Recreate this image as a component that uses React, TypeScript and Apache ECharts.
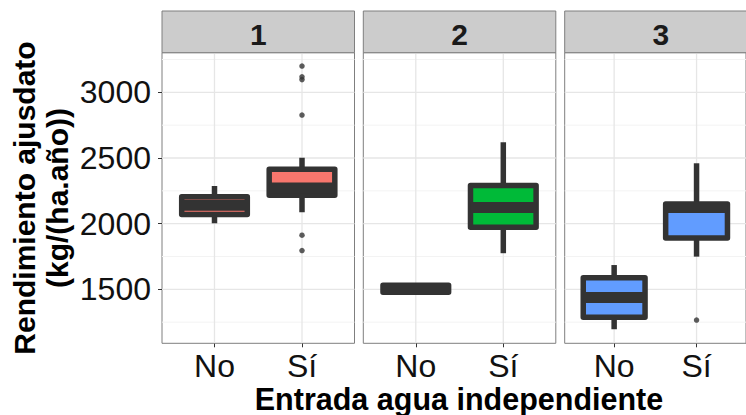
import React, { useEffect, useRef } from "react";
import * as echarts from "echarts";

const panels = ["1", "2", "3"];
const categories = ["No", "Sí"];
const fills = ["#F8766D", "#00BA38", "#619CFF"];
// [low whisker, Q1, median, Q3, high whisker] for each panel
const boxNo = [
  [2003, 2070, 2140, 2205, 2287],
  [1478, 1478, 1505, 1532, 1532],
  [1196, 1288, 1438, 1588, 1685],
];
const boxSi = [
  [2087, 2217, 2272, 2415, 2502],
  [1775, 1973, 2123, 2291, 2620],
  [1749, 1890, 2123, 2150, 2460],
];
const outliersSi = [[3200, 3118, 3097, 2827, 1912, 1795], [], [1266]];
const yTicks = [1500, 2000, 2500, 3000];
const yGridValues = [1250, 1500, 1750, 2000, 2250, 2500, 2750, 3000, 3250];
const xPositions = [1, 2];
const yMin = 1089;
const yMax = 3302;

const DARK = "#333333";
const FONT = "'Liberation Sans', Arial, sans-serif";

const lefts = [162, 363.3, 564.7];
const TOP = 52.7;
const W = 192.5;
const H = 290.6;

export default function App() {
  const ref = useRef<HTMLDivElement>(null);
  useEffect(() => {
    if (!ref.current) return;
    const chart = echarts.init(ref.current, undefined, { renderer: "svg" });

    const grids: any[] = [];
    const xAxes: any[] = [];
    const yAxes: any[] = [];
    const series: any[] = [];
    const graphics: any[] = [];

    panels.forEach((p, i) => {
      grids.push({
        left: lefts[i],
        top: TOP,
        width: W,
        height: H,
        show: true,
        backgroundColor: "#ffffff",
        borderColor: "#7f7f7f",
        borderWidth: 1,
      });
      xAxes.push({
        type: "value",
        gridIndex: i,
        min: 0.4,
        max: 2.6,
        axisLine: { show: false },
        splitLine: { show: false },
        axisTick: {
          show: true,
          customValues: xPositions,
          length: 4,
          lineStyle: { color: DARK, width: 1 },
        },
        axisLabel: {
          show: true,
          customValues: xPositions,
          formatter: (v: number) => categories[Math.round(v) - 1] ?? "",
          fontSize: 32,
          fontFamily: FONT,
          color: "#111111",
          margin: 7,
        },
      });
      yAxes.push({
        type: "value",
        gridIndex: i,
        min: yMin,
        max: yMax,
        axisLine: { show: false },
        splitLine: { show: false },
        axisTick:
          i === 0
            ? { show: true, customValues: yTicks, length: 4, lineStyle: { color: DARK, width: 1 } }
            : { show: false },
        axisLabel:
          i === 0
            ? {
                show: true,
                customValues: yTicks,
                formatter: (v: number) => String(v),
                fontSize: 32,
                fontFamily: FONT,
                color: "#111111",
                margin: 11,
              }
            : { show: false },
      });

      // horizontal grid lines
      series.push({
        type: "custom",
        xAxisIndex: i,
        yAxisIndex: i,
        silent: true,
        z: 1,
        data: yGridValues.map((v) => [1, v]),
        encode: { x: 0, y: 1 },
        renderItem: (params: any, api: any) => {
          const v = api.value(1);
          const cs = params.coordSys;
          const y = api.coord([1, v])[1];
          const major = v % 500 === 0;
          return {
            type: "line",
            shape: { x1: cs.x, y1: y, x2: cs.x + cs.width, y2: y },
            style: { stroke: major ? "#e6e6e6" : "#f3f3f3", lineWidth: major ? 1.3 : 1 },
          };
        },
      });
      // vertical grid lines
      series.push({
        type: "custom",
        xAxisIndex: i,
        yAxisIndex: i,
        silent: true,
        z: 1,
        data: xPositions.map((v) => [v, 2000]),
        encode: { x: 0, y: 1 },
        renderItem: (params: any, api: any) => {
          const cs = params.coordSys;
          const x = api.coord([api.value(0), 2000])[0];
          return {
            type: "line",
            shape: { x1: x, y1: cs.y, x2: x, y2: cs.y + cs.height },
            style: { stroke: "#e6e6e6", lineWidth: 1.3 },
          };
        },
      });
      // boxes
      const fill = fills[i];
      series.push({
        type: "custom",
        xAxisIndex: i,
        yAxisIndex: i,
        z: 3,
        data: [
          [1, ...boxNo[i]],
          [2, ...boxSi[i]],
        ],
        encode: { x: 0, y: [1, 2, 3, 4, 5] },
        renderItem: (params: any, api: any) => {
          const x = api.value(0);
          const low = api.value(1);
          const q1 = api.value(2);
          const med = api.value(3);
          const q3 = api.value(4);
          const high = api.value(5);
          const half = 0.375;
          const tl = api.coord([x - half, q3]);
          const br = api.coord([x + half, q1]);
          const mL = api.coord([x - half, med]);
          const mR = api.coord([x + half, med]);
          const pHigh = api.coord([x, high]);
          const pQ3 = api.coord([x, q3]);
          const pQ1 = api.coord([x, q1]);
          const pLow = api.coord([x, low]);
          const children: any[] = [];
          if (high > q3)
            children.push({
              type: "line",
              shape: { x1: pQ3[0], y1: pQ3[1], x2: pHigh[0], y2: pHigh[1] },
              style: { stroke: DARK, lineWidth: 5.5 },
            });
          if (low < q1)
            children.push({
              type: "line",
              shape: { x1: pQ1[0], y1: pQ1[1], x2: pLow[0], y2: pLow[1] },
              style: { stroke: DARK, lineWidth: 5.5 },
            });
          children.push({
            type: "rect",
            shape: { x: tl[0], y: tl[1], width: br[0] - tl[0], height: br[1] - tl[1] },
            style: { fill, stroke: DARK, lineWidth: 5.5, lineJoin: "round" },
          });
          children.push({
            type: "line",
            shape: { x1: mL[0], y1: mL[1], x2: mR[0], y2: mR[1] },
            style: { stroke: DARK, lineWidth: 11 },
          });
          return { type: "group", children };
        },
      });
      // outliers
      series.push({
        type: "scatter",
        xAxisIndex: i,
        yAxisIndex: i,
        z: 4,
        symbolSize: 5.5,
        itemStyle: { color: DARK },
        data: outliersSi[i].map((v) => [2, v]),
      });

      // strip
      graphics.push({
        type: "rect",
        shape: { x: lefts[i], y: 11, width: W, height: TOP - 11 },
        style: { fill: "#cccccc", stroke: "#7f7f7f", lineWidth: 1 },
        z: 10,
      });
      graphics.push({
        type: "text",
        x: lefts[i] + W / 2,
        y: 34,
        style: {
          text: p,
          fontSize: 30,
          fontWeight: "bold",
          fontFamily: FONT,
          fill: "#1a1a1a",
          align: "center",
          verticalAlign: "middle",
        },
        z: 11,
      });
    });

    // axis titles
    graphics.push({
      type: "text",
      x: 459,
      y: 399,
      style: {
        text: "Entrada agua independiente",
        fontSize: 30.5,
        fontWeight: "bold",
        fontFamily: FONT,
        fill: "#000000",
        align: "center",
        verticalAlign: "middle",
      },
    });
    graphics.push({
      type: "text",
      x: 24,
      y: 198,
      rotation: Math.PI / 2,
      style: {
        text: "Rendimiento ajusdato",
        fontSize: 30,
        fontWeight: "bold",
        fontFamily: FONT,
        fill: "#000000",
        align: "center",
        verticalAlign: "middle",
      },
    });
    graphics.push({
      type: "text",
      x: 57,
      y: 198,
      rotation: Math.PI / 2,
      style: {
        text: "(kg/(ha.año))",
        fontSize: 30,
        fontWeight: "bold",
        fontFamily: FONT,
        fill: "#000000",
        align: "center",
        verticalAlign: "middle",
      },
    });

    chart.setOption({
      animation: false,
      backgroundColor: "#ffffff",
      grid: grids,
      xAxis: xAxes,
      yAxis: yAxes,
      series,
      graphic: graphics,
    });
    return () => chart.dispose();
  }, []);
  return (
    <div
      ref={ref}
      style={{ position: "absolute", left: 0, top: 0, width: 746, height: 415 }}
    />
  );
}
